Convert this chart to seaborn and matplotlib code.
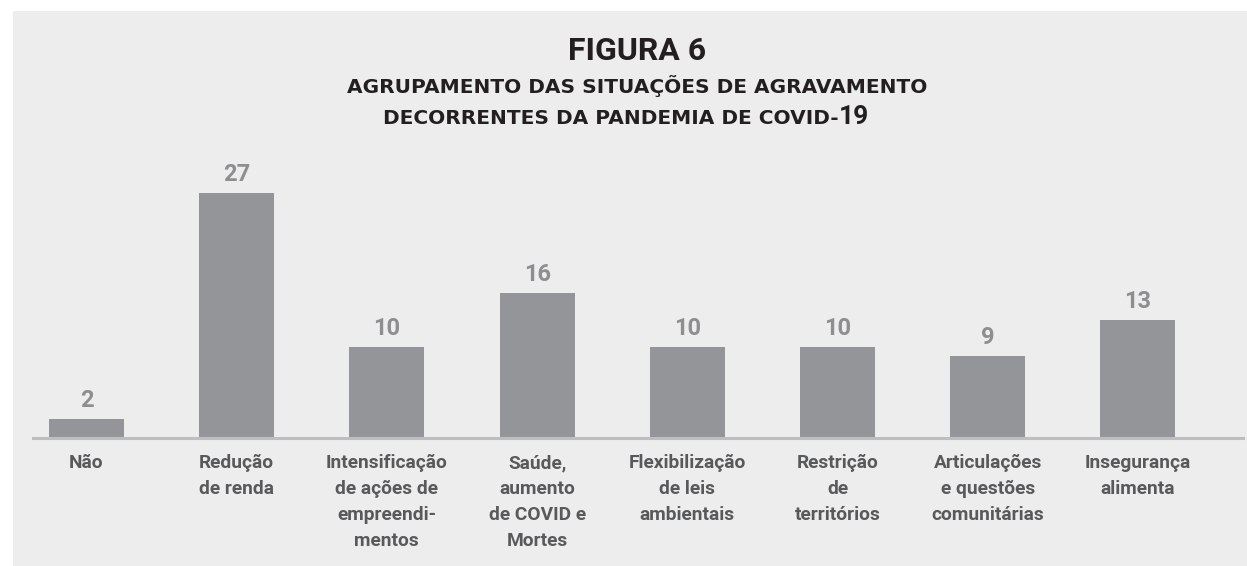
import matplotlib
matplotlib.use("Agg")
import matplotlib.pyplot as plt
import seaborn as sns
import pandas as pd
from matplotlib.patches import Rectangle

categories = [
    "Não",
    "Redução\nde renda",
    "Intensificação\nde ações de\nempreendi-\nmentos",
    "Saúde,\naumento\nde COVID e\nMortes",
    "Flexibilização\nde leis\nambientais",
    "Restrição\nde\nterritórios",
    "Articulações\ne questões\ncomunitárias",
    "Insegurança\nalimenta",
]
values = [2, 27, 10, 16, 10, 10, 9, 13]

title = "FIGURA 6"
subtitle1 = "AGRUPAMENTO DAS SITUAÇÕES DE AGRAVAMENTO"
subtitle2a = "DECORRENTES DA PANDEMIA DE COVID-"
subtitle2b = "19"

sns.set_theme(style="white")
plt.rcParams['font.family'] = ['Roboto', 'DejaVu Sans']

W, H = 1247, 566
fig = plt.figure(figsize=(W / 100, H / 100), dpi=100)
fig.patch.set_facecolor("white")
fig.patches.append(Rectangle((13 / W, 0), 1 - 13 / W, 1 - 11 / H,
                             transform=fig.transFigure, facecolor="#ededed",
                             edgecolor="none", zorder=-5))

ax_left, ax_right = 33 / W, 1243 / W
ax_bottom = (H - 437.5) / H
ax_top = (H - 166) / H
ax = fig.add_axes([ax_left, ax_bottom, ax_right - ax_left, ax_top - ax_bottom])
ax.set_facecolor("none")
ax.set_zorder(2)

df = pd.DataFrame({"cat": categories, "val": values})
sns.barplot(data=df, x="cat", y="val", color="#939598", saturation=1,
            width=0.5, linewidth=0, ax=ax)

ax.set_xlim(-0.356, 7.70)
ax.set_ylim(0, 30)
for s in ["top", "right", "left"]:
    ax.spines[s].set_visible(False)
ax.spines["bottom"].set_color("#bcbec0")
ax.spines["bottom"].set_linewidth(2.2)
ax.set_yticks([])
ax.set_xlabel("")
ax.set_ylabel("")
ax.tick_params(axis="x", length=0, pad=12)
ax.set_xticks(range(len(categories)))
ax.set_xticklabels(categories, fontsize=13.8, fontweight="bold",
                   color="#58595b", linespacing=1.56, va="top")

for c in ax.containers:
    ax.bar_label(c, labels=[str(v) for v in values], padding=5,
                 fontsize=17, fontweight="bold", color="#8d8e90")

fig.text(637 / W, 1 - 51 / H, title, ha="center", va="center",
         fontsize=23, fontweight="bold", color="#231f20")
fig.text(637 / W, 1 - 86.5 / H, subtitle1, ha="center", va="center",
         fontsize=14.5, fontweight="bold", color="#231f20",
         family=["DejaVu Sans"])

# second subtitle line: text part in the wide font, digits in Roboto
renderer = fig.canvas.get_renderer()
ta = fig.text(0, 1 - 124 / H, subtitle2a, ha="left", va="baseline",
              fontsize=14.5, fontweight="bold", color="#231f20",
              family=["DejaVu Sans"])
tb = fig.text(0, 1 - 124 / H, subtitle2b, ha="left", va="baseline",
              fontsize=19, fontweight="bold", color="#231f20")
wa = ta.get_window_extent(renderer).width
wb = tb.get_window_extent(renderer).width
x0 = 626 - (wa + wb + 1) / 2
ta.set_x(x0 / W)
tb.set_x((x0 + wa + 1) / W)

fig.savefig("out.png", dpi=100)
